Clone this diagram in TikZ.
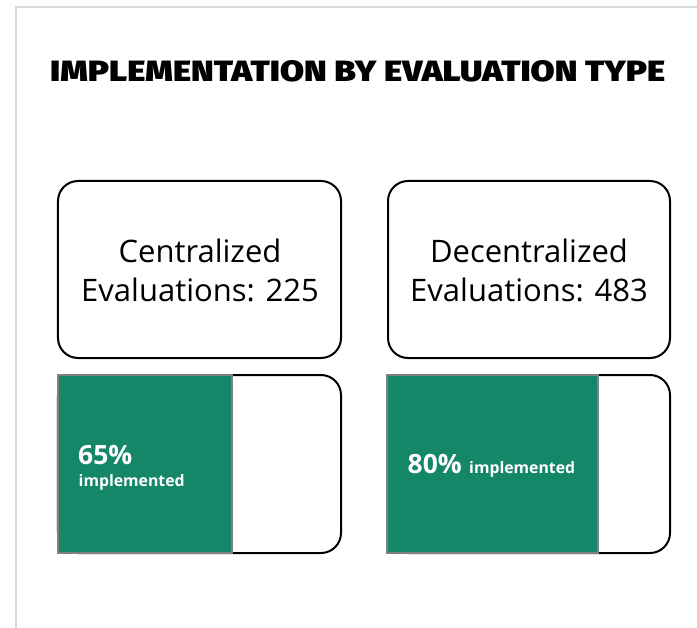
\documentclass[tikz,border=0pt]{standalone}
\usepackage{fontspec}
\setmainfont{Open Sans}
\newfontfamily\titlefont{Fira Sans Black}
\definecolor{implgreen}{RGB}{21,135,105}
\definecolor{framegray}{RGB}{218,218,218}
\definecolor{bargray}{RGB}{128,128,128}
\begin{document}
\begin{tikzpicture}[x=1bp,y=-1bp,
  framebox/.style={draw=black,line width=2bp,rounded corners=20bp,fill=white,inner sep=0},
  greenbar/.style={draw=bargray,line width=1.5bp,fill=implgreen,inner sep=0},
  boxtext/.style={align=center,font=\fontsize{31bp}{38.3bp}\selectfont,text=black},
  pcttext/.style={text=white,inner sep=0,font=\fontsize{26.5bp}{30bp}\selectfont\bfseries},
  impltext/.style={text=white,inner sep=0,font=\fontsize{15.8bp}{20bp}\selectfont\bfseries}]
\path[use as bounding box] (0,0) rectangle (697,628);
\draw[framegray,line width=2bp] (16,628) -- (16,7) -- (697,7);
\node[anchor=base west,inner sep=0] (title) at (50,82) {\resizebox{615bp}{21bp}{\titlefont IMPLEMENTATION BY EVALUATION TYPE}};
% top boxes
\node[framebox,minimum width=283bp,minimum height=177bp] (cbox) at (199.5,269.5) {};
\node[boxtext] (ctext) at (200,270.5) {Centralized\\Evaluations: 225};
\node[framebox,minimum width=282bp,minimum height=177bp] (dbox) at (529,269.5) {};
\node[boxtext] (dtext) at (529,270.5) {Decentralized\\Evaluations: 483};
% bottom boxes
\node[framebox,minimum width=283bp,minimum height=178bp] (cbar) at (199.5,464) {};
\node[greenbar,minimum width=174bp,minimum height=178bp] (cfill) at (145,464) {};
\node[pcttext,anchor=base west] (cpct) at (78,464) {65\%};
\node[impltext,anchor=base west] (cimpl) at (78.5,486.5) {implemented};
\node[framebox,minimum width=283bp,minimum height=178bp] (dbar) at (528.5,464) {};
\node[greenbar,minimum width=211bp,minimum height=178bp] (dfill) at (492.5,464) {};
\node[pcttext,anchor=base west] (dpct) at (407.5,473.5) {80\%};
\node[impltext,anchor=base west] (dimpl) at (469,473.5) {implemented};
\end{tikzpicture}
\end{document}
